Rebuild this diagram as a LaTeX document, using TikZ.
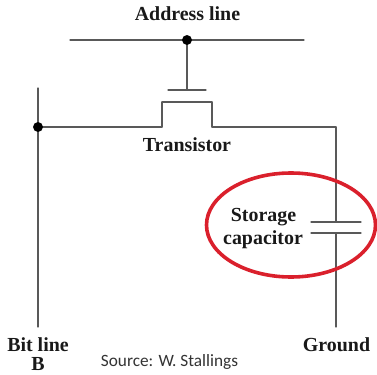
\documentclass[tikz,border=0pt]{standalone}
\usepackage{fontspec}
\setmainfont{Liberation Serif}
\newfontfamily\srcfont{Carlito}
\usepackage{tkz-euclide}
\definecolor{wire}{gray}{.35}
\definecolor{ringred}{RGB}{218,32,44}
\tikzset{lbl/.style={font=\fontsize{15}{17}\selectfont\bfseries,text=black!90,inner sep=0pt}}

\begin{document}
\begin{tikzpicture}[scale=.2646]
\useasboundingbox (0,0) rectangle (37.7,37.4);
\tkzSetUpLine[line width=.9pt,color=wire]
\tkzSetUpPoint[fill=black]

\tkzDefPoints{7/33.4/AL,30.4/33.4/AR,18.7/33.4/G,18.7/28.4/S,16.8/28.4/GL,20.6/28.4/GR}
\tkzDefPoints{3.8/24.7/J,3.8/28.6/BT,3.8/4.7/BB}
\tkzDefPoints{16.2/24.7/DL,16.2/27.2/DT,21.2/27.2/ST,21.2/24.7/SL,33.6/24.7/RC}
\tkzDefPoints{33.6/15.2/PT,33.6/14.1/PB,33.6/4.7/GB}
\tkzDefPoints{31.1/15.2/UL,36.1/15.2/UR,31.1/14.1/WL,36.1/14.1/WR}
\tkzDefPoint(29.1,14.9){E}

\tkzDrawSegments(AL,AR G,S GL,GR BT,BB J,DL DL,DT DT,ST ST,SL SL,RC RC,PT PB,GB UL,UR WL,WR)

\draw[color=ringred,line width=2.7pt] (E) ellipse (8.45 and 5.2);

\tkzDrawPoints[size=7](G,J)

\node[lbl] (addr) at (18.75,36) {Address line};
\node[lbl] (trans) at (18.7,22.9) {Transistor};
\node[lbl] (stor) at (26.35,15.7) {Storage};
\node[lbl] (capa) at (26.3,13.4) {capacitor};
\node[lbl] (bit) at (3.8,2.9) {Bit line};
\node[lbl] (bee) at (3.8,.95) {B};
\node[lbl] (gnd) at (33.65,2.9) {Ground};
\node[inner sep=0pt,font=\srcfont\fontsize{13}{15}\selectfont,text=black!80] (src) at (16.95,1.2) {Source: W. Stallings};

\end{tikzpicture}
\end{document}
